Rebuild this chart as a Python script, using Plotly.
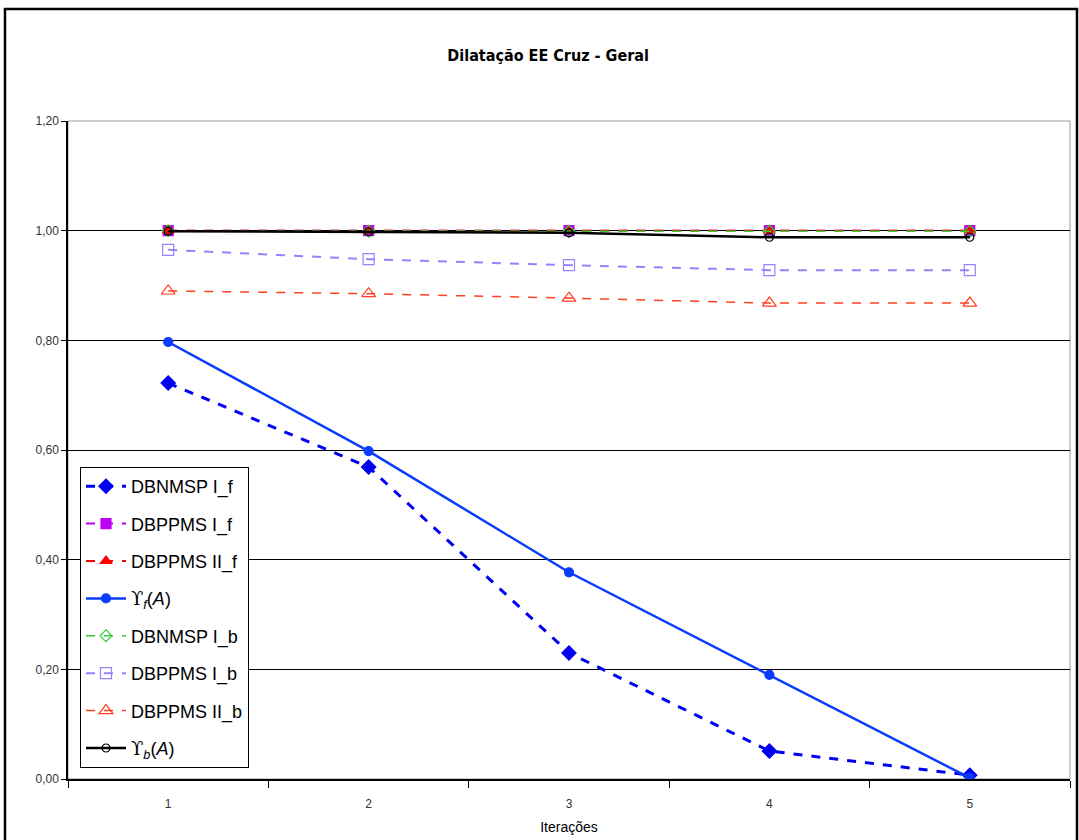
import plotly.graph_objects as go

iteracoes = ["1", "2", "3", "4", "5"]
dbnmsp_i_f = [0.722, 0.569, 0.230, 0.051, 0.007]
dbppms_i_f = [1.000, 1.000, 1.000, 1.000, 1.000]
dbppms_ii_f = [1.000, 1.000, 1.000, 1.000, 1.000]
upsilon_f = [0.797, 0.598, 0.377, 0.190, 0.002]
dbnmsp_i_b = [1.000, 0.999, 0.999, 0.999, 0.999]
dbppms_i_b = [0.965, 0.948, 0.937, 0.928, 0.928]
dbppms_ii_b = [0.890, 0.885, 0.877, 0.868, 0.868]
upsilon_b = [0.999, 0.998, 0.996, 0.988, 0.988]

UPS = '<span style="font-family:DejaVu Serif">ϒ</span>'
series = [
    ("DBNMSP I_f", dbnmsp_i_f, "#0000F0", "dash", 3, "diamond", 11),
    ("DBPPMS I_f", dbppms_i_f, "#C000F0", "dash", 2, "square", 10),
    ("DBPPMS II_f", dbppms_ii_f, "#FF0000", "dash", 2, "triangle-up", 10),
    (UPS + "<sub><i>f</i></sub>(<i>A</i>)", upsilon_f, "#0A3CFF", "solid", 2.5, "circle", 9),
    ("DBNMSP I_b", dbnmsp_i_b, "#33CC33", "dash", 1.5, "diamond-open", 9),
    ("DBPPMS I_b", dbppms_i_b, "#9980FF", "dash", 2, "square-open", 11),
    ("DBPPMS II_b", dbppms_ii_b, "#FF4020", "dash", 1.5, "triangle-up-open", 12),
    (UPS + "<sub><i>b</i></sub>(<i>A</i>)", upsilon_b, "#000000", "solid", 2.5, "circle-open", 8),
]

fig = go.Figure()
for i, (name, ys, color, dash, w, sym, size) in enumerate(series):
    fig.add_trace(go.Scatter(
        x=iteracoes, y=ys, name=name, mode="lines+markers",
        line=dict(color=color, dash=dash, width=w),
        marker=dict(symbol=sym, size=size, color=color,
                    line=dict(color=color, width=1.2)),
        legendgroup="g%d" % i,
    ))

L, R, T, B = 68, 9, 121, 61
W, H = 1079, 840
pw, ph = W - L - R, H - T - B

def px_x(x):
    return (x - L) / pw

def px_y(y):
    return (H - B - y) / ph

fig.update_layout(
    width=W, height=H,
    margin=dict(l=L, r=R, t=T, b=B),
    paper_bgcolor="white", plot_bgcolor="white",
    separators=", ",
    font=dict(family="Liberation Sans, Arial", color="black"),
    title=dict(text="<b>Dilatação EE Cruz - Geral</b>", x=0.508, xanchor="center",
               y=1 - 55 / H, yanchor="middle",
               font=dict(size=16, family="DejaVu Sans Condensed, Liberation Sans, Arial")),
    showlegend=True,
    legend=dict(x=px_x(80), y=px_y(467), xanchor="left", yanchor="top",
                bgcolor="white", bordercolor="black", borderwidth=1,
                font=dict(size=18, family="Liberation Sans, Arial"),
                traceorder="grouped", tracegroupgap=11, itemwidth=40),
    xaxis=dict(type="category", range=[-0.5, 4.5], tickson="boundaries",
               ticks="outside", ticklen=7, tickcolor="black",
               ticklabelstandoff=13, automargin=False,
               showline=True, linecolor="black", linewidth=1.5,
               showgrid=False, zeroline=False,
               tickfont=dict(size=12, color="#333"),
               title=dict(text="Iterações", font=dict(size=14), standoff=12)),
    yaxis=dict(range=[0, 1.2], dtick=0.2, tickformat=".2f",
               ticks="outside", ticklen=5, tickcolor="black", automargin=False,
               showline=True, linecolor="black", linewidth=1.5,
               showgrid=True, gridcolor="black", gridwidth=1,
               zeroline=False, tickfont=dict(size=12, color="#333")),
    shapes=[
        dict(type="rect", xref="paper", yref="paper", x0=0, x1=1, y0=0, y1=1,
             line=dict(color="#999", width=1), layer="below"),
        dict(type="rect", xref="paper", yref="paper",
             x0=px_x(5), x1=px_x(1077), y0=px_y(900), y1=px_y(9),
             line=dict(color="black", width=2.5)),
    ],
)

fig.write_html("out.html", config={"displayModeBar": False},
               post_script="document.body.style.margin='0px';")
